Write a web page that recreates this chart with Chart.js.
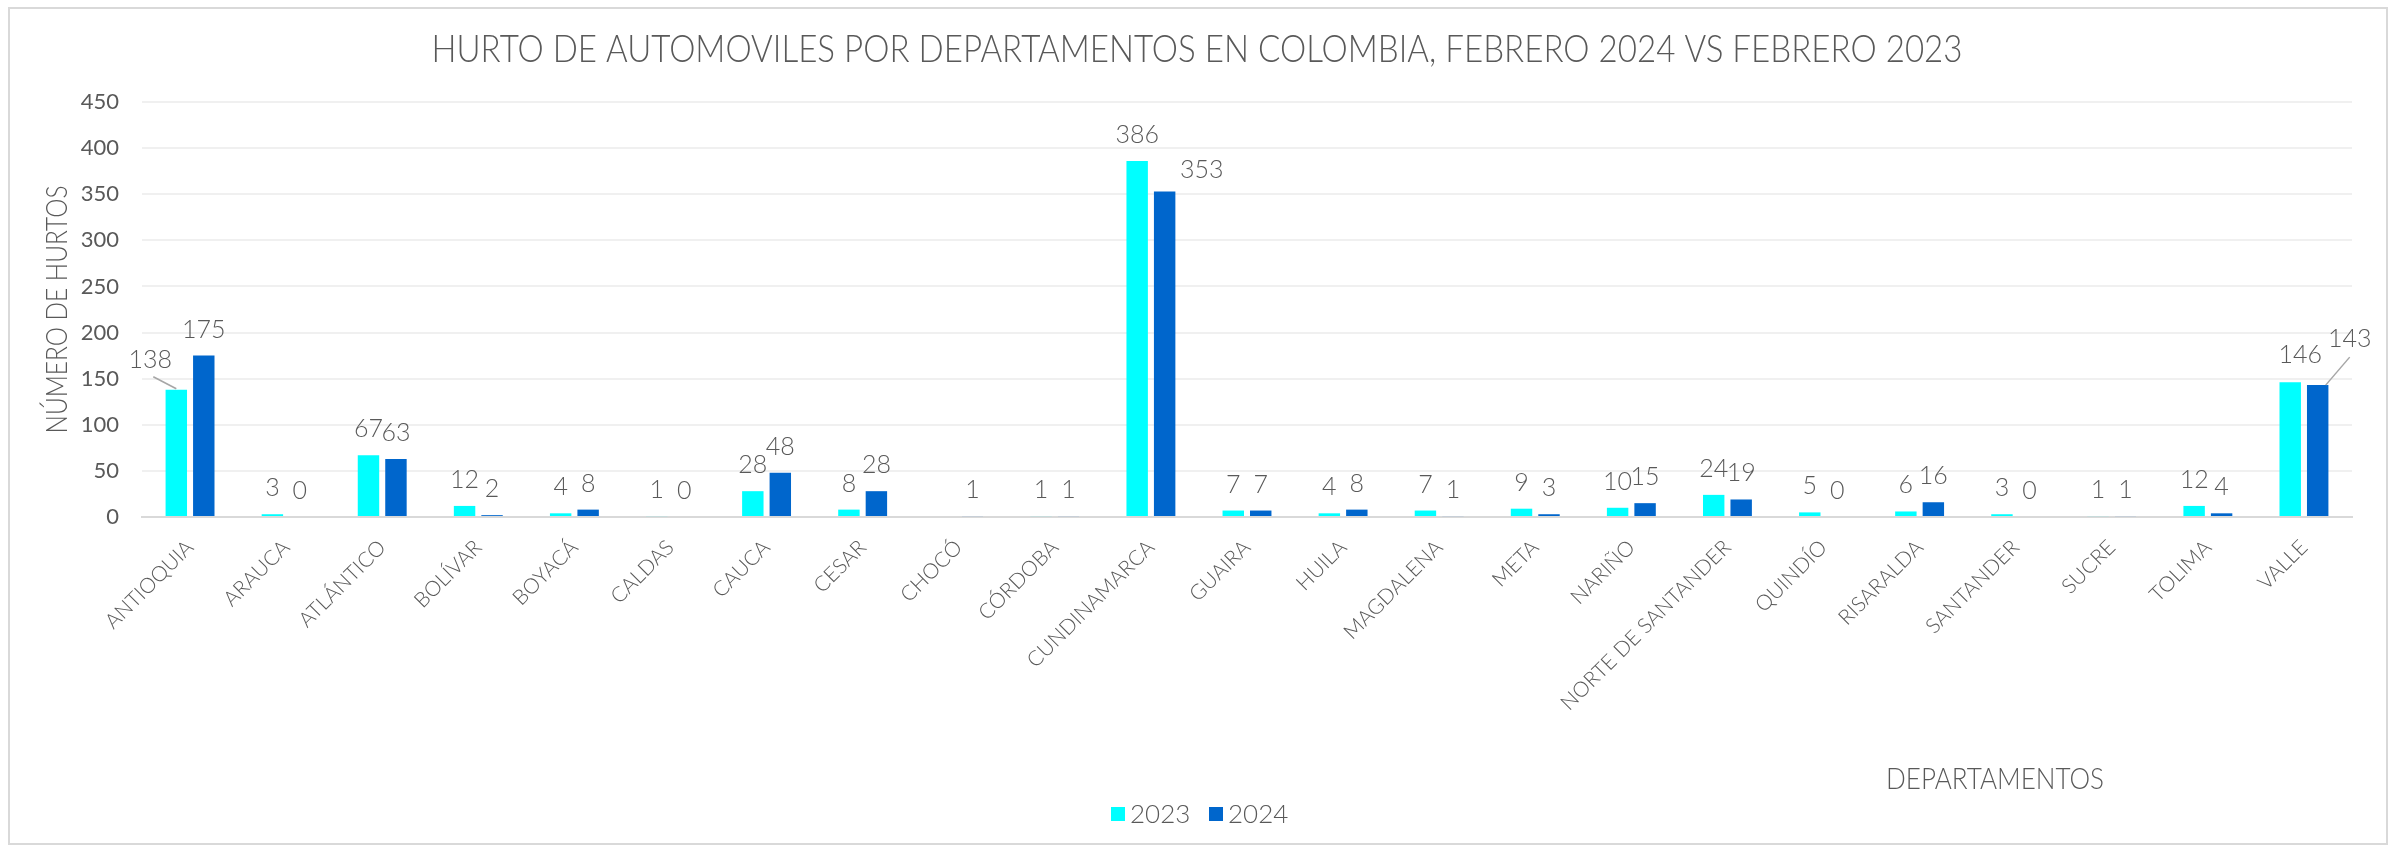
<!DOCTYPE html>
<html>
<head>
<meta charset="utf-8">
<script src="https://cdn.jsdelivr.net/npm/chart.js@4.4.1/dist/chart.umd.min.js"></script>
<style>
  body { margin: 0; background: #fff; }
  #wrap { width: 2392px; height: 848px; }
</style>
</head>
<body>
<div id="wrap"><canvas id="myChart" width="2392" height="848"></canvas></div>
<script>
// datos
const departamentos = ["ANTIOQUIA", "ARAUCA", "ATLÁNTICO", "BOLÍVAR", "BOYACÁ", "CALDAS", "CAUCA", "CESAR",
    "CHOCÓ", "CÓRDOBA", "CUNDINAMARCA", "GUAIRA", "HUILA", "MAGDALENA", "META", "NARIÑO",
    "NORTE DE SANTANDER", "QUINDÍO", "RISARALDA", "SANTANDER", "SUCRE", "TOLIMA", "VALLE"];
const hurtos2023 = [138, 3, 67, 12, 4, 1, 28, 8, null, 1, 386, 7, 4, 7, 9, 10, 24, 5, 6, 3, 1, 12, 146];
const hurtos2024 = [175, 0, 63, 2, 8, 0, 48, 28, 1, 1, 353, 7, 8, 1, 3, 15, 19, 0, 16, 0, 1, 4, 143];
const series = ["2023", "2024"];
const yMax = 450;
const yStep = 50;

const titulo = "HURTO DE AUTOMOVILES POR DEPARTAMENTOS EN COLOMBIA, FEBRERO 2024 VS FEBRERO 2023";
const tituloY = "NÚMERO DE HURTOS";
const tituloX = "DEPARTAMENTOS";

const colores = ["#00FFFF", "#0066CC"];
const gris = "#595959";
const thin = "Lato";

// etiquetas movidas a mano en el original (dataset:indice)
const labelMoves = {
    "0:0": { dx: -26, dy: -22, leader: [-23, -13, 0, -1] },
    "1:10": { dx: 37, dy: -13 },
    "0:22": { dx: 10, dy: -19 },
    "1:22": { dx: 32, dy: -38, leader: [32, -28, 8, 0] }
};

// texto estrecho: se comprime en x hasta el ancho pedido
function narrowText(ctx, text, x, y, size, width) {
    ctx.font = "300 " + size + "px " + thin;
    const w = ctx.measureText(text).width;
    ctx.save();
    ctx.translate(x, y);
    ctx.scale(width / w, 1);
    ctx.textAlign = "center";
    ctx.textBaseline = "middle";
    ctx.fillText(text, 0, 0);
    ctx.restore();
}

const extras = {
    id: 'extras',
    beforeDraw(chart) {
        const ctx = chart.ctx;
        ctx.save();
        ctx.fillStyle = "#fff";
        ctx.fillRect(0, 0, chart.width, chart.height);
        ctx.strokeStyle = "#d9d9d9";
        ctx.lineWidth = 2;
        ctx.strokeRect(9, 8, 2378, 836);
        ctx.restore();
    },
    afterDatasetsDraw(chart) {
        const ctx = chart.ctx;
        ctx.save();
        ctx.font = "300 25px " + thin;
        ctx.fillStyle = gris;
        ctx.textAlign = "center";
        ctx.textBaseline = "alphabetic";
        chart.data.datasets.forEach((ds, d) => {
            chart.getDatasetMeta(d).data.forEach((bar, i) => {
                const v = ds.data[i];
                if (v === null) return;
                const m = labelMoves[d + ":" + i] || { dx: 0, dy: -18 };
                ctx.fillText(String(v), bar.x + m.dx, bar.y + m.dy);
                if (m.leader) {
                    ctx.strokeStyle = "#a6a6a6";
                    ctx.lineWidth = 1.5;
                    ctx.beginPath();
                    ctx.moveTo(bar.x + m.leader[0], bar.y + m.leader[1]);
                    ctx.lineTo(bar.x + m.leader[2], bar.y + m.leader[3]);
                    ctx.stroke();
                }
            });
        });
        ctx.restore();
    },
    afterDraw(chart) {
        const ctx = chart.ctx;
        const a = chart.chartArea;
        ctx.save();
        ctx.fillStyle = gris;
        narrowText(ctx, titulo, 1197, 50, 38, 1531);
        ctx.save();
        ctx.translate(58, (a.top + a.bottom) / 2);
        ctx.rotate(-Math.PI / 2);
        narrowText(ctx, tituloY, 0, 0, 29, 248);
        ctx.restore();
        narrowText(ctx, tituloX, 1995, 779, 30, 218);
        // leyenda
        ctx.font = "300 26px " + thin;
        ctx.textAlign = "left";
        ctx.textBaseline = "middle";
        const lx = [1111, 1209];
        series.forEach((s, k) => {
            ctx.fillStyle = colores[k];
            ctx.fillRect(lx[k], 807, 14, 14);
            ctx.fillStyle = gris;
            ctx.fillText(s, lx[k] + 19, 815);
        });
        ctx.restore();
    }
};

const ctx = document.getElementById('myChart').getContext('2d');
const chart = new Chart(ctx, {
    type: 'bar',
    data: {
        labels: departamentos,
        datasets: [
            { label: series[0], data: hurtos2023, backgroundColor: colores[0] },
            { label: series[1], data: hurtos2024, backgroundColor: colores[1] }
        ]
    },
    options: {
        responsive: false,
        animation: false,
        categoryPercentage: 0.572,
        barPercentage: 0.78,
        layout: { padding: { left: 0, right: 40, top: 102, bottom: 0 } },
        plugins: {
            legend: { display: false },
            title: { display: false },
            tooltip: { enabled: false }
        },
        scales: {
            x: {
                grid: { display: false },
                border: { color: "#d9d9d9", width: 2 },
                ticks: {
                    color: gris,
                    font: { family: thin, size: 21, weight: '300' },
                    minRotation: 45,
                    maxRotation: 45,
                    autoSkip: false,
                    padding: 10
                },
                afterFit(scale) { scale.height = 331; }
            },
            y: {
                min: 0,
                max: yMax,
                grid: { color: "#f0f0f0", lineWidth: 2, drawTicks: false },
                border: { display: false },
                ticks: {
                    stepSize: yStep,
                    color: gris,
                    font: { family: thin, size: 22 },
                    padding: 23
                },
                afterFit(scale) { scale.width = 142; }
            }
        }
    },
    plugins: [extras]
});
</script>
</body>
</html>
